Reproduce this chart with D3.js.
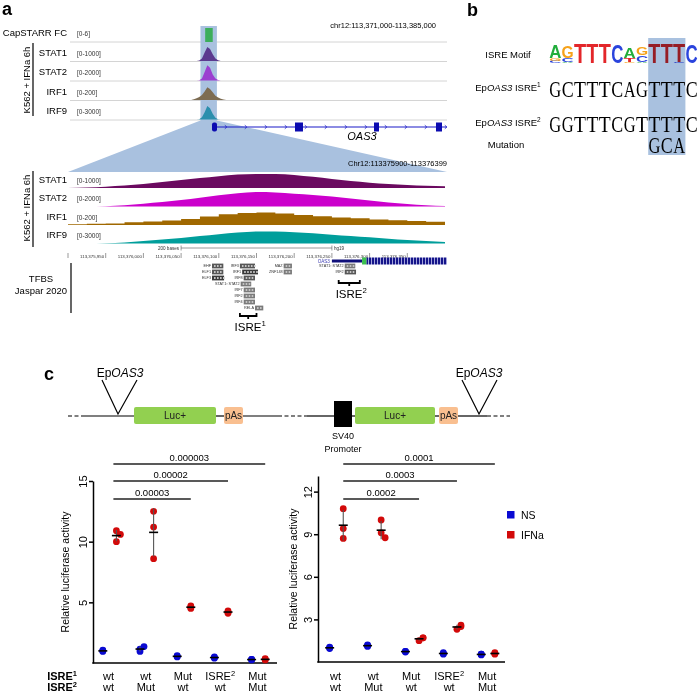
<!DOCTYPE html>
<html>
<head>
<meta charset="utf-8">
<script src="https://cdn.jsdelivr.net/npm/d3@7"></script>
<style>
body { margin: 0; background: #fff; }
svg { display: block; font-family: "Liberation Sans", Arial, sans-serif; }
</style>
</head>
<body>
<svg id="fig" width="698" height="692"></svg>
<script>
// ---------- data ----------
// panel a, top browser view (chr12:113,371,000-113,385,000)
var upWindow = [113371000, 113385000];
var hlRegion = [113375900, 113376400];
var oas3Exons = [[113376273, 113376459], [113379355, 113379652], [113382289, 113382475], [113384591, 113384814]];
var trackNames = ["STAT1", "STAT2", "IRF1", "IRF9"];
var trackMax = [1000, 2000, 200, 3000];
var capRange = 6, capStart = 113376020, capEnd = 113376300, capValue = 6;
// coarse signal in the top view, offsets from 113375900
var upPos = [-400, -300, -200, -100, 0, 100, 200, 300, 400, 500, 600, 700, 800, 900];
var upSTAT1 = [0, 0, 0, 30, 150, 500, 820, 700, 400, 150, 40, 0, 0, 0];
var upSTAT2 = [0, 0, 0, 40, 240, 1000, 1800, 1500, 700, 240, 60, 0, 0, 0];
var upIRF1 = [0, 10, 20, 35, 60, 100, 150, 130, 90, 50, 30, 15, 5, 0];
var upIRF9 = [0, 0, 0, 60, 400, 1300, 2400, 2000, 1000, 300, 60, 0, 0, 0];

// panel a, zoomed view (Chr12:113375900-113376399), offsets from 113375900
var lowStart = 113375900, lowEnd = 113376400;
var lowPos = [0, 25, 50, 75, 100, 125, 150, 175, 200, 225, 250, 275, 300, 325, 350, 375, 400, 425, 450, 475, 500];
var lowSTAT1 = [0, 30, 80, 150, 250, 370, 500, 620, 740, 840, 880, 880, 820, 700, 560, 430, 330, 250, 190, 140, 110];
var lowSTAT2 = [0, 0, 40, 150, 350, 550, 800, 1100, 1400, 1650, 1800, 1750, 1600, 1450, 1250, 1000, 750, 500, 300, 150, 60];
var lowIRF1 = [10, 15, 20, 35, 45, 55, 75, 105, 135, 150, 155, 145, 125, 110, 95, 85, 70, 60, 50, 40, 30];
var lowIRF9 = [0, 0, 60, 200, 450, 750, 1050, 1400, 1750, 2050, 2250, 2250, 2100, 1900, 1650, 1400, 1150, 900, 650, 450, 300];
var coordTicks = [113375950, 113376000, 113376050, 113376100, 113376150, 113376200, 113376250, 113376300, 113376350];
var lowGene = {utr: 113376250, cds: 113376290, cdsMark: 113376296, end: 113376400};

// TFBS (Jaspar 2020), offsets from 113375900
var tfNames = ["EHF", "ELF1", "ELF3", "IRF3", "IRF1", "IRF8", "STAT1::STAT2", "IRF7", "IRF2", "IRF4", "RELA", "MAZ", "ZNF148", "STAT1::STAT2", "IRF2"];
var tfStart = [191, 191, 191, 228, 231, 233, 229, 233, 233, 233, 248, 286, 286, 367, 367];
var tfEnd = [206, 206, 207, 248, 252, 248, 243, 248, 248, 248, 259, 297, 297, 381, 382];
var tfRow = [0, 1, 2, 0, 1, 2, 3, 4, 5, 6, 7, 0, 1, 0, 1];
var tfDark = [1, 1, 2, 1, 2, 1, 0, 0, 0, 0, 0, 0, 0, 0, 1];
var isreStart = [228, 359], isreEnd = [250, 387];

// panel b
var motif = [
  [["A", 13], ["G", 3], ["C", 2.5]],
  [["G", 12], ["C", 4], ["A", 1]],
  [["T", 20]],
  [["T", 20.5]],
  [["T", 20]],
  [["C", 19]],
  [["A", 11], ["T", 4], ["G", 1.5]],
  [["G", 8], ["C", 7], ["A", 1]],
  [["T", 20]],
  [["T", 20]],
  [["T", 19], ["C", 1]],
  [["C", 19]]
];
var isre1Seq = "GCTTTCAGTTTC";
var isre2Seq = "GGTTTCGTTTTC";
var mutSeq = "GCA", mutAt = 8;

// panel c
var groups = ["g1", "g2", "g3", "g4", "g5"];
var isre1Row = ["wt", "wt", "Mut", "ISRE2", "Mut"];
var isre2Row = ["wt", "Mut", "wt", "wt", "Mut"];
var leftNS = [[0.95, 1.0, 1.05], [0.95, 1.15, 1.35], [0.5, 0.55, 0.6], [0.4, 0.45, 0.5], [0.25, 0.3, 0.3]];
var leftIFN = [[10.0, 10.9, 10.6], [12.5, 11.2, 8.6], [4.5, 4.7, 4.6], [4.1, 4.3, 4.2], [0.3, 0.25, 0.35]];
var rightNS = [[0.95, 1.0, 1.05], [1.1, 1.15, 1.2], [0.7, 0.75, 0.75], [0.55, 0.6, 0.65], [0.5, 0.55, 0.55]];
var rightIFN = [[10.8, 9.4, 8.7], [10.0, 9.1, 8.75], [1.5, 1.7, 1.7], [2.3, 2.5, 2.6], [0.55, 0.6, 0.65]];
var leftTicks = [5, 10, 15], rightTicks = [3, 6, 9, 12];
var leftPvals = ["0.00003", "0.00002", "0.000003"], leftPto = [2, 3, 4];
var rightPvals = ["0.0002", "0.0003", "0.0001"], rightPto = [2, 3, 4];

// ---------- drawing ----------
var svg = d3.select("#fig");
var hlColor = "#a9c1df";
var upCols = ["#5b3a8f", "#9b3fd0", "#7d6c52", "#2b8fad"];
var lowCols = ["#6b0a60", "#cc00cc", "#a06800", "#009e9b"];

function panelLetter(t, x, y) {
  svg.append("text").attr("x", x).attr("y", y).attr("font-size", 18)
    .attr("font-weight", "bold").text(t);
}
panelLetter("a", 2, 15);
panelLetter("b", 467, 16);
panelLetter("c", 44, 380);

// ---- panel a: top view ----
var xUp = d3.scaleLinear().domain(upWindow).range([70, 447]);
var lowX = d3.scaleLinear().domain([lowStart, lowEnd]).range([68, 445]);
var upBottoms = [42, 61.5, 81, 100.5, 120];

// zoom trapezoid
svg.append("polygon")
  .attr("points", [[xUp(hlRegion[0]) - 1.5, 120.5], [xUp(hlRegion[1]) + 1.5, 120.5], [447, 172], [68, 172]].join(" "))
  .attr("fill", hlColor);

upBottoms.forEach(function (b) {
  svg.append("line").attr("x1", 70).attr("x2", 447).attr("y1", b).attr("y2", b)
    .attr("stroke", "#d4d4d4").attr("stroke-width", 1);
});
svg.append("rect").attr("x", xUp(hlRegion[0]) - 1.5).attr("y", 26)
  .attr("width", xUp(hlRegion[1]) - xUp(hlRegion[0]) + 3).attr("height", 95).attr("fill", hlColor);

var upLabels = ["CapSTARR FC"].concat(trackNames);
var upRanges = ["[0-" + capRange + "]"].concat(trackMax.map(function (m) { return "[0-" + m + "]"; }));
upLabels.forEach(function (n, i) {
  svg.append("text").attr("x", 67).attr("y", upBottoms[i] - 6).attr("text-anchor", "end")
    .attr("font-size", 9.5).text(n);
  svg.append("text").attr("x", 77).attr("y", upBottoms[i] - 6).attr("font-size", 6.5)
    .attr("fill", "#333").text(upRanges[i]);
});
svg.append("rect").attr("x", xUp(capStart)).attr("y", upBottoms[0] - 14)
  .attr("width", xUp(capEnd) - xUp(capStart)).attr("height", 14 * capValue / capRange).attr("fill", "#3cae5a");

[upSTAT1, upSTAT2, upIRF1, upIRF9].forEach(function (vals, i) {
  var base = upBottoms[i + 1] - 0.5;
  var area = d3.area()
    .x(function (d, j) { return xUp(hlRegion[0] + upPos[j]); })
    .y0(base)
    .y1(function (d) { return base - 17 * d / trackMax[i]; });
  svg.append("path").datum(vals).attr("d", area).attr("fill", upCols[i]);
});

function sideLabel(text, cx, cy, lx, ly0, ly1) {
  svg.append("text").attr("transform", "translate(" + cx + "," + cy + ") rotate(-90)")
    .attr("text-anchor", "middle").attr("font-size", 9.5).text(text);
  svg.append("line").attr("x1", lx).attr("x2", lx).attr("y1", ly0).attr("y2", ly1)
    .attr("stroke", "#000").attr("stroke-width", 1.2);
}
sideLabel("K562 + IFNa 6h", 30, 80, 33, 43, 116);

svg.append("text").attr("x", 436).attr("y", 28).attr("text-anchor", "end")
  .attr("font-size", 7.5).text("chr12:113,371,000-113,385,000");

// OAS3 gene model
var geneY = 127, geneCol = "#1a1ac8";
svg.append("line").attr("x1", xUp(oas3Exons[0][0])).attr("x2", 447).attr("y1", geneY).attr("y2", geneY)
  .attr("stroke", geneCol).attr("stroke-width", 1.2);
d3.range(xUp(oas3Exons[0][0]) + 14, 447, 20).forEach(function (cx) {
  svg.append("path").attr("d", "M" + (cx - 1.2) + "," + (geneY - 1.8) + "L" + (cx + 0.8) + "," + geneY + "L" + (cx - 1.2) + "," + (geneY + 1.8))
    .attr("fill", "none").attr("stroke", geneCol).attr("stroke-width", 0.8);
});
oas3Exons.forEach(function (e, i) {
  svg.append("rect").attr("x", xUp(e[0])).attr("y", geneY - 4.5)
    .attr("width", Math.max(4, xUp(e[1]) - xUp(e[0]))).attr("height", 9)
    .attr("rx", i === 0 ? 2 : 0).attr("fill", "#0b0bb0");
});
svg.append("text").attr("x", 362).attr("y", 140).attr("text-anchor", "middle")
  .attr("font-size", 11).attr("font-style", "italic").text("OAS3");

svg.append("text").attr("x", 447).attr("y", 166).attr("text-anchor", "end")
  .attr("font-size", 7.5).text("Chr12:113375900-113376399");

// ---- panel a: zoomed tracks ----
var lowBases = [188, 206.5, 225, 243.5];
[lowSTAT1, lowSTAT2, lowIRF1, lowIRF9].forEach(function (vals, i) {
  var base = lowBases[i];
  var area = d3.area()
    .x(function (d, j) { return lowX(lowStart + lowPos[j]); })
    .y0(base)
    .y1(function (d) { return base - 16 * d / trackMax[i]; })
    .curve(i === 2 ? d3.curveStepAfter : d3.curveMonotoneX);
  svg.append("path").datum(vals).attr("d", area).attr("fill", lowCols[i]);
  svg.append("text").attr("x", 67).attr("y", base - 5.5).attr("text-anchor", "end")
    .attr("font-size", 9.5).text(trackNames[i]);
  svg.append("text").attr("x", 77).attr("y", base - 5.5).attr("font-size", 6.5)
    .attr("fill", "#333").text("[0-" + trackMax[i] + "]");
});
sideLabel("K562 + IFNa 6h", 30, 208, 33, 171, 247);

// scale bar and coordinates
var sbY = 248;
svg.append("text").attr("x", lowX(113376050) - 2).attr("y", sbY + 1.5).attr("text-anchor", "end")
  .attr("font-size", 4.6).attr("fill", "#333").text("200 bases");
svg.append("line").attr("x1", lowX(113376050)).attr("x2", lowX(113376250)).attr("y1", sbY).attr("y2", sbY)
  .attr("stroke", "#555").attr("stroke-width", 0.6);
[113376050, 113376250].forEach(function (p) {
  svg.append("line").attr("x1", lowX(p)).attr("x2", lowX(p)).attr("y1", sbY - 2.5).attr("y2", sbY + 2.5)
    .attr("stroke", "#555").attr("stroke-width", 0.6);
});
svg.append("text").attr("x", lowX(113376250) + 2).attr("y", sbY + 1.5)
  .attr("font-size", 4.6).attr("fill", "#333").text("hg19");
[lowStart].concat(coordTicks).forEach(function (p, i) {
  var x = lowX(p);
  svg.append("line").attr("x1", x).attr("x2", x).attr("y1", 253).attr("y2", 258)
    .attr("stroke", "#555").attr("stroke-width", 0.6);
  if (i > 0) svg.append("text").attr("x", x - 1.5).attr("y", 257.5).attr("text-anchor", "end")
    .attr("font-size", 4.4).attr("fill", "#333").text(d3.format(",")(p));
});

// OAS3 in zoomed view
var defs = svg.append("defs");
var pat = defs.append("pattern").attr("id", "stripe").attr("patternUnits", "userSpaceOnUse")
  .attr("width", 3).attr("height", 8);
pat.append("rect").attr("width", 3).attr("height", 8).attr("fill", "#14148a");
pat.append("rect").attr("x", 2).attr("width", 0.8).attr("height", 8).attr("fill", "#c8c8f0");
var lgY = 261;
svg.append("text").attr("x", lowX(lowGene.utr) - 2).attr("y", lgY + 1.5).attr("text-anchor", "end")
  .attr("font-size", 4.6).attr("fill", "#3a3ab0").text("OAS3");
svg.append("rect").attr("x", lowX(lowGene.utr)).attr("y", lgY - 1.5)
  .attr("width", lowX(lowGene.cds) - lowX(lowGene.utr)).attr("height", 3).attr("fill", "#10107a");
svg.append("rect").attr("x", lowX(lowGene.cds)).attr("y", lgY - 3.5)
  .attr("width", lowX(lowGene.cdsMark) - lowX(lowGene.cds)).attr("height", 7).attr("fill", "#3cc050");
svg.append("rect").attr("x", lowX(lowGene.cdsMark)).attr("y", lgY - 3.5)
  .attr("width", 447 - lowX(lowGene.cdsMark)).attr("height", 7).attr("fill", "url(#stripe)");

// TFBS
svg.append("text").attr("x", 41).attr("y", 282).attr("text-anchor", "middle").attr("font-size", 9.5).text("TFBS");
svg.append("text").attr("x", 41).attr("y", 294).attr("text-anchor", "middle").attr("font-size", 9.5).text("Jaspar 2020");
svg.append("line").attr("x1", 71).attr("x2", 71).attr("y1", 263).attr("y2", 313)
  .attr("stroke", "#000").attr("stroke-width", 1.2);
var tfShade = ["#7a7a7a", "#575757", "#3a3a3a"];
tfNames.forEach(function (n, i) {
  var x0 = lowX(lowStart + tfStart[i]), x1 = lowX(lowStart + tfEnd[i]);
  var yc = 266 + tfRow[i] * 6;
  svg.append("rect").attr("x", x0).attr("y", yc - 2.4).attr("width", x1 - x0).attr("height", 4.8)
    .attr("fill", tfShade[tfDark[i]]);
  d3.range(x0 + 2, x1 - 1, 3).forEach(function (cx) {
    svg.append("rect").attr("x", cx).attr("y", yc - 1).attr("width", 1.6).attr("height", 2)
      .attr("fill", "#c4c4c4");
  });
  svg.append("text").attr("x", x0 - 1).attr("y", yc + 1.4).attr("text-anchor", "end")
    .attr("font-size", 3.8).attr("fill", "#333").text(n);
});

function brace(x0, x1, y) {
  var xm = (x0 + x1) / 2;
  svg.append("path").attr("d", "M" + x0 + "," + y + "V" + (y + 3) + "H" + x1 + "V" + y + "M" + xm + "," + (y + 3) + "V" + (y + 6))
    .attr("fill", "none").attr("stroke", "#000").attr("stroke-width", 1.8);
}
function supText(sel, base, sup, size) {
  sel.append("tspan").text(base);
  sel.append("tspan").attr("dy", -size * 0.4).attr("font-size", size * 0.68).text(sup);
}
var isreTextY = [331, 298], isreBraceY = [313, 280];
isreStart.forEach(function (s, i) {
  var x0 = lowX(lowStart + s), x1 = lowX(lowStart + isreEnd[i]);
  brace(x0, x1, isreBraceY[i]);
  var t = svg.append("text").attr("x", (x0 + x1) / 2 + 2).attr("y", isreTextY[i])
    .attr("text-anchor", "middle").attr("font-size", 11.5);
  supText(t, "ISRE", String(i + 1), 11.5);
});

// ---- panel b ----
var lx0 = 549, lw = 12.4, logoBase = 63;
var letterCol = {A: "#22ad3c", C: "#2a44dd", G: "#f6a21a", T: "#e3262a"};
svg.append("rect").attr("x", lx0 + lw * mutAt).attr("y", 38).attr("width", lw * 3).attr("height", 117)
  .attr("fill", hlColor);
var logo = svg.append("g").style("mix-blend-mode", "multiply");
motif.forEach(function (stack, i) {
  var cx = lx0 + lw * (i + 0.5), yb = logoBase;
  stack.slice().reverse().forEach(function (L) {
    var t = logo.append("text").text(L[0]).attr("font-size", 100).attr("font-weight", "bold")
      .attr("text-anchor", "middle").attr("fill", letterCol[L[0]]);
    var w = t.node().getComputedTextLength();
    var sx = (lw * 0.98) / w, sy = L[1] / 72;
    t.attr("transform", "translate(" + cx + "," + yb + ") scale(" + sx + "," + sy + ")");
    yb -= L[1];
  });
});
function seqRow(seq, start, baseline) {
  seq.split("").forEach(function (ch, i) {
    svg.append("text").attr("x", lx0 + lw * (start + i + 0.5)).attr("y", baseline)
      .attr("text-anchor", "middle").attr("font-family", "'Liberation Serif', serif")
      .attr("font-size", 22.5).attr("textLength", lw * 0.96).attr("lengthAdjust", "spacingAndGlyphs")
      .text(ch);
  });
}
seqRow(isre1Seq, 0, 96.5);
seqRow(isre2Seq, 0, 131.5);
seqRow(mutSeq, mutAt, 153);
svg.append("text").attr("x", 508).attr("y", 58).attr("text-anchor", "middle").attr("font-size", 9.5).text("ISRE Motif");
svg.append("text").attr("x", 506).attr("y", 148).attr("text-anchor", "middle").attr("font-size", 9.5).text("Mutation");
[[91, "1"], [126, "2"]].forEach(function (r) {
  var t = svg.append("text").attr("x", 508).attr("y", r[0]).attr("text-anchor", "middle").attr("font-size", 9.5);
  t.append("tspan").text("Ep");
  t.append("tspan").attr("font-style", "italic").text("OAS3");
  t.append("tspan").text(" ISRE");
  t.append("tspan").attr("dy", -4).attr("font-size", 6.5).text(r[1]);
});

// ---- panel c: constructs ----
var cy = 416;
var sc = svg.append("g");
function seg(x1, x2, dashed) {
  sc.append("line").attr("x1", x1).attr("x2", x2).attr("y1", cy).attr("y2", cy)
    .attr("stroke", "#000").attr("stroke-width", 1.2).attr("stroke-dasharray", dashed ? "4,2.5" : null);
}
function box(x1, x2, fill, label, y0, h) {
  sc.append("rect").attr("x", x1).attr("y", y0).attr("width", x2 - x1).attr("height", h)
    .attr("rx", 2).attr("fill", fill);
  if (label) sc.append("text").attr("x", (x1 + x2) / 2).attr("y", y0 + h / 2 + 3.6)
    .attr("text-anchor", "middle").attr("font-size", 10).attr("fill", "#222").text(label);
}
function epo(xv, xl, xr, tx) {
  sc.append("path").attr("d", "M" + xl + ",380L" + xv + "," + (cy - 2) + "L" + xr + ",380")
    .attr("fill", "none").attr("stroke", "#000").attr("stroke-width", 1.2);
  var t = sc.append("text").attr("x", tx).attr("y", 377).attr("text-anchor", "middle").attr("font-size", 12);
  t.append("tspan").text("Ep");
  t.append("tspan").attr("font-style", "italic").text("OAS3");
}
seg(68, 84, true); seg(84, 134); seg(216, 224); seg(243, 278); seg(278, 307, true); seg(307, 334);
seg(352, 355); seg(435, 439); seg(458, 487); seg(487, 510, true);
box(134, 216, "#92d050", "Luc+", 407, 17);
box(224, 243, "#f9bf90", "pAs", 407, 17);
sc.append("rect").attr("x", 334).attr("y", 401).attr("width", 18).attr("height", 26).attr("fill", "#000");
box(355, 435, "#92d050", "Luc+", 407, 17);
box(439, 458, "#f9bf90", "pAs", 407, 17);
sc.append("text").attr("x", 343).attr("y", 439).attr("text-anchor", "middle").attr("font-size", 9).text("SV40");
sc.append("text").attr("x", 343).attr("y", 452).attr("text-anchor", "middle").attr("font-size", 9).text("Promoter");
epo(118, 102, 137, 120);
epo(479, 462, 497, 479);

// ---- panel c: plots ----
function plot(o) {
  var g = svg.append("g");
  var y = d3.scaleLinear().domain([0, o.yMax]).range([o.yBase, o.yTop]);
  var x = d3.scalePoint().domain(groups).range([o.xL, o.xR]).padding(0.5);
  var s = d3.scalePoint().domain(["NS", "IFNa"]).range([-6.8, 6.8]);
  var r = 3.4;

  var ax = g.append("g").attr("transform", "translate(" + o.axX + ",0)")
    .call(d3.axisLeft(y).tickValues(o.ticks).tickSize(4).tickSizeOuter(0));
  ax.select(".domain").attr("stroke-width", 1.5);
  ax.selectAll(".tick line").attr("stroke-width", 1.5);
  ax.selectAll(".tick text").attr("transform", "rotate(-90)").attr("x", 0).attr("y", -6.5)
    .attr("dy", 0).attr("text-anchor", "middle").attr("font-size", 11)
    .attr("font-family", "'Liberation Sans', Arial, sans-serif");
  g.append("line").attr("x1", o.axX - 0.75).attr("x2", o.xEnd).attr("y1", y(0)).attr("y2", y(0))
    .attr("stroke", "#000").attr("stroke-width", 1.5);
  g.append("text").attr("transform", "translate(" + o.labX + "," + ((o.yBase + o.yTop) / 2) + ") rotate(-90)")
    .attr("text-anchor", "middle").attr("font-size", 10.5).text("Relative luciferase activity");

  var series = [["NS", o.ns, "#0a0ad2"], ["IFNa", o.ifn, "#d20a0a"]];
  series.forEach(function (sr) {
    sr[1].forEach(function (vals, gi) {
      var cx = x(groups[gi]) + s(sr[0]);
      var placed = [];
      vals.forEach(function (v) {
        var py = y(v), off = 0;
        // nudge sideways only when a dot half-covers another one
        var clash = placed.some(function (p) { var d = Math.abs(p[1] - py); return p[0] === 0 && d > 2.5 && d < 1.6 * r; });
        if (clash) off = 4;
        placed.push([off, py]);
        g.append("circle").attr("cx", cx + off).attr("cy", py).attr("r", r).attr("fill", sr[2]);
      });
    });
  });
  series.forEach(function (sr) {
    sr[1].forEach(function (vals, gi) {
      var cx = x(groups[gi]) + s(sr[0]);
      var m = d3.mean(vals), sd = d3.deviation(vals);
      g.append("line").attr("x1", cx).attr("x2", cx).attr("y1", y(m - sd)).attr("y2", y(m + sd))
        .attr("stroke", "#555").attr("stroke-width", 1.1);
      g.append("line").attr("x1", cx - 4.5).attr("x2", cx + 4.5).attr("y1", y(m)).attr("y2", y(m))
        .attr("stroke", "#000").attr("stroke-width", 1.6);
    });
  });

  var barY = [499, 481, 464];
  o.pvals.forEach(function (p, i) {
    var x1 = x(groups[0]) + s("IFNa") + o.barPad, x2 = x(groups[o.pto[i]]) + s("IFNa");
    g.append("line").attr("x1", x1).attr("x2", x2).attr("y1", barY[i]).attr("y2", barY[i])
      .attr("stroke", "#222").attr("stroke-width", 1.3);
    g.append("text").attr("x", (x1 + x2) / 2).attr("y", barY[i] - 3).attr("text-anchor", "middle")
      .attr("font-size", 9.5).text(p);
  });

  [isre1Row, isre2Row].forEach(function (row, ri) {
    row.forEach(function (lab, gi) {
      var t = g.append("text").attr("x", x(groups[gi]) - 1).attr("y", ri === 0 ? 680 : 691)
        .attr("text-anchor", "middle").attr("font-size", 11);
      if (lab === "ISRE2") supText(t, "ISRE", "2", 11); else t.text(lab);
    });
  });
}

plot({axX: 93, xL: 91, xR: 277, xEnd: 277, yBase: 663, yTop: 481, yMax: 15, ticks: leftTicks,
  labX: 69, ns: leftNS, ifn: leftIFN, pvals: leftPvals, pto: leftPto, barPad: -3});
plot({axX: 318, xL: 317.5, xR: 507, xEnd: 505, yBase: 662, yTop: 476, yMax: 13.1, ticks: rightTicks,
  labX: 297, ns: rightNS, ifn: rightIFN, pvals: rightPvals, pto: rightPto, barPad: 0});

[["ISRE", "1", 680], ["ISRE", "2", 691]].forEach(function (r) {
  var t = svg.append("text").attr("x", 77).attr("y", r[2]).attr("text-anchor", "end")
    .attr("font-size", 11).attr("font-weight", "bold");
  supText(t, r[0], r[1], 11);
});

// legend
[["NS", "#0a0ad2", 511], ["IFNa", "#d20a0a", 531]].forEach(function (l) {
  svg.append("rect").attr("x", 507).attr("y", l[2]).attr("width", 7.5).attr("height", 7.5).attr("fill", l[1]);
  svg.append("text").attr("x", 521).attr("y", l[2] + 7.5).attr("font-size", 10.5).text(l[0]);
});
</script>
</body>
</html>
